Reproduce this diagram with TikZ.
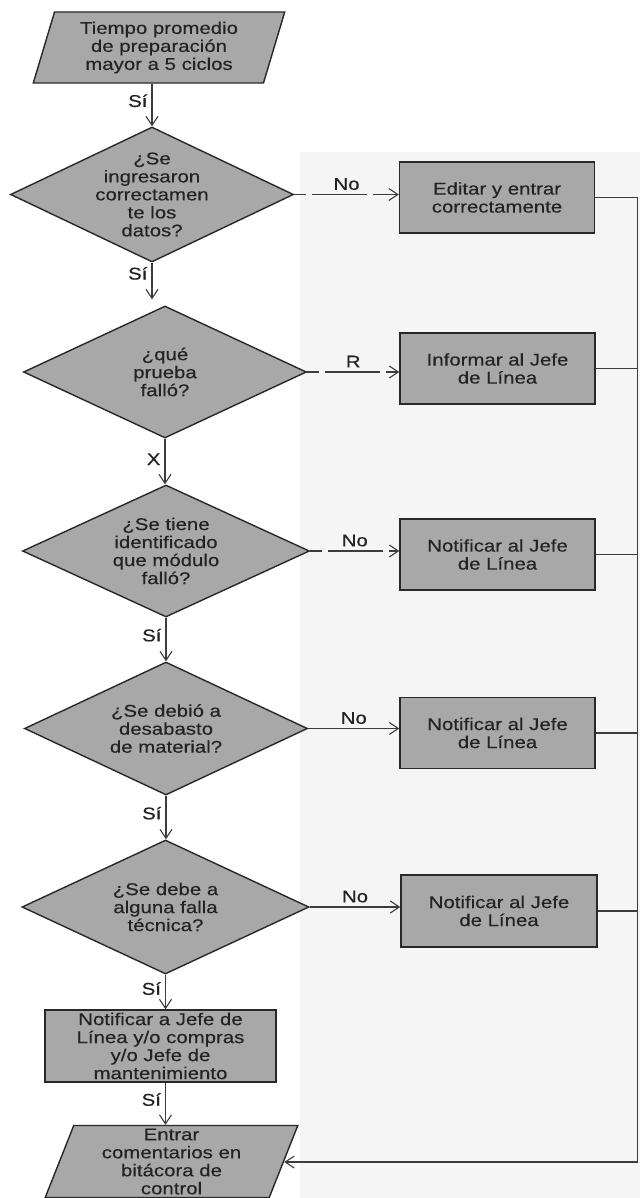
\documentclass[tikz,border=0pt]{standalone}
\usepackage{fontspec}
\setmainfont{Liberation Sans}[FakeStretch=1.2, FakeBold=0.35]
\usetikzlibrary{shapes.geometric,arrows.meta}
\definecolor{shapefill}{RGB}{168,168,168}
\definecolor{edgecol}{RGB}{40,40,40}
\definecolor{linecol}{RGB}{60,60,60}
\definecolor{textcol}{RGB}{35,35,35}
\definecolor{bgshade}{RGB}{245,245,245}
\begin{document}
\begin{tikzpicture}[x=1pt,y=-1pt,
  font=\fontsize{17pt}{18pt}\selectfont,
  every node/.style={text=textcol},
  boxnode/.style={rectangle, draw=edgecol, line width=1.4pt, fill=shapefill, inner sep=0pt, align=center, minimum width=195pt, minimum height=71pt},
  dianode/.style={diamond, draw=edgecol, line width=1.4pt, fill=shapefill, inner sep=0pt},
  ionode/.style={trapezium, trapezium left angle=72.8, trapezium right angle=107.2, trapezium stretches=true, draw=edgecol, line width=1.4pt, fill=shapefill, inner sep=0pt, align=center},
  dtext/.style={align=center, inner sep=0pt},
  conn/.style={draw=linecol, line width=1.1pt},
  arr/.style={conn, -{Straight Barb[length=9pt,width=12pt]}},
  dsh/.style={dash pattern=on 12pt off 6pt on 55pt off 6pt on 60pt},
  lbl/.style={inner sep=4pt}
]
\useasboundingbox (0,0) rectangle (640,1198);
\fill[white] (0,0) rectangle (640,1198);
\fill[bgshade] (300,152) rectangle (640,1198);

% shapes
\node[ionode, minimum width=252pt, minimum height=71pt] (p1) at (159,47.5) {Tiempo promedio\\de preparación\\mayor a 5 ciclos};
\node[dianode, minimum width=283pt, minimum height=135pt,
  label={[dtext]center:{¿Se\\ingresaron\\correctamen\\te los\\datos?}}] (d1) at (152,194.5) {};
\node[boxnode] (b1) at (497,197.5) {Editar y entrar\\correctamente};
\node[dianode, minimum width=283pt, minimum height=132pt,
  label={[dtext]center:{¿qué\\prueba\\falló?}}] (d2) at (165,372) {};
\node[boxnode] (b2) at (497.5,368.5) {Informar al Jefe\\de Línea};
\node[dianode, minimum width=287pt, minimum height=132pt,
  label={[dtext]center:{¿Se tiene\\identificado\\que módulo\\falló?}}] (d3) at (166,551) {};
\node[boxnode] (b3) at (497.5,554.5) {Notificar al Jefe\\de Línea};
\node[dianode, minimum width=283pt, minimum height=133pt,
  label={[dtext]center:{¿Se debió a\\desabasto\\de material?}}] (d4) at (166,728.5) {};
\node[boxnode] (b4) at (497.5,733) {Notificar al Jefe\\de Línea};
\node[dianode, minimum width=287pt, minimum height=134pt,
  label={[dtext]center:{¿Se debe a\\alguna falla\\técnica?}}] (d5) at (165.5,907) {};
\node[boxnode, minimum width=196pt, minimum height=72pt] (b5) at (499,911) {Notificar al Jefe\\de Línea};
\node[boxnode, minimum width=231pt, minimum height=72pt] (b6) at (160.5,1046) {Notificar a Jefe de\\Línea y/o compras\\y/o Jefe de\\mantenimiento};
\node[ionode, minimum width=253pt, minimum height=72pt] (p2) at (171.5,1161.5) {Entrar\\comentarios en\\bitácora de\\control};
\coordinate (rc) at (637.5,1162);

% vertical flow
\draw[arr] (p1.south -| d1.north) -- (d1.north) node[lbl, left, pos=0.4] {Sí};
\draw[arr, shorten >=6pt] (d1.south) -- (d1.south |- d2.north) node[lbl, left, pos=0.25] {Sí};
\draw[arr] (d2.south) -- (d2.south |- d3.north) node[lbl, left, pos=0.45] {X};
\draw[arr] (d3.south) -- (d3.south |- d4.north) node[lbl, left, pos=0.4] {Sí};
\draw[arr] (d4.south) -- (d4.south |- d5.north) node[lbl, left, pos=0.4] {Sí};
\draw[arr] (d5.south) -- (d5.south |- b6.north) node[lbl, left, pos=0.4] {Sí};
\draw[arr] (d5.south |- b6.south) -- (d5.south |- p2.north) node[lbl, left, pos=0.4] {Sí};

% horizontal branches
\draw[arr, dsh] (d1.east) -- (d1.east -| b1.west) node[lbl, above, midway] {No};
\draw[arr, dsh] (d2.east) -- (d2.east -| b2.west) node[lbl, above, midway] {R};
\draw[arr, dsh] (d3.east) -- (d3.east -| b3.west) node[lbl, above, midway] {No};
\draw[arr] (d4.east) -- (d4.east -| b4.west) node[lbl, above, midway] {No};
\draw[arr] (d5.east) -- (d5.east -| b5.west) node[lbl, above, midway] {No};

% return line
\draw[conn] (b1.east) -- (b1.east -| rc) -- (rc);
\draw[conn] (b2.east) -- (b2.east -| rc);
\draw[conn] (b3.east) -- (b3.east -| rc);
\draw[conn] (b4.east) -- (b4.east -| rc);
\draw[conn] (b5.east) -- (b5.east -| rc);
\draw[arr] (rc) -- (rc -| p2.east);
\end{tikzpicture}
\end{document}
